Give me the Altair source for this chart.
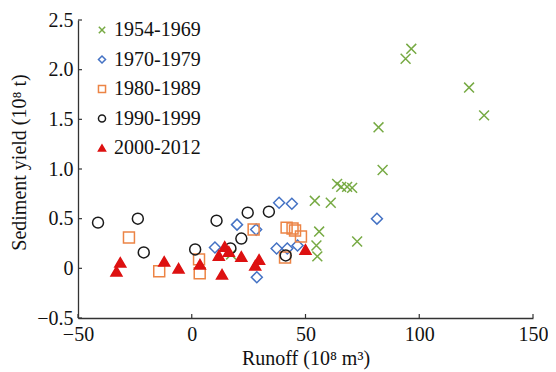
import altair as alt
import pandas as pd

periods = ["1954-1969", "1970-1979", "1980-1989", "1990-1999", "2000-2012"]

runoff_5469 = [17.3, 54.1, 61.1, 63.9, 65.7, 68.3, 70.5, 83.9, 56.0, 72.7, 54.8, 55.2, 96.5, 94.0, 121.9, 128.5, 82.1]
sed_5469 = [0.14, 0.68, 0.66, 0.85, 0.82, 0.82, 0.81, 0.99, 0.37, 0.27, 0.23, 0.12, 2.21, 2.11, 1.82, 1.54, 1.42]

runoff_7079 = [10.2, 19.9, 28.3, 28.6, 38.4, 44.0, 37.3, 42.0, 46.5, 81.4]
sed_7079 = [0.21, 0.44, 0.39, -0.09, 0.66, 0.65, 0.20, 0.20, 0.23, 0.50]

runoff_8089 = [-27.6, -14.3, 3.2, 3.5, 27.2, 41.0, 41.7, 44.3, 45.4, 48.0]
sed_8089 = [0.31, -0.03, 0.09, -0.05, 0.39, 0.11, 0.41, 0.40, 0.38, 0.32]

runoff_9099 = [-41.2, -23.7, -21.1, 1.5, 10.9, 17.0, 21.8, 24.6, 33.9, 41.3]
sed_9099 = [0.46, 0.50, 0.16, 0.19, 0.48, 0.20, 0.30, 0.56, 0.57, 0.13]

runoff_0012 = [-31.4, -33.1, -12.1, -5.8, 3.6, 11.9, 14.5, 16.3, 21.8, 13.3, 29.6, 27.9, 50.0]
sed_0012 = [0.06, -0.03, 0.07, 0.0, 0.04, 0.13, 0.22, 0.17, 0.12, -0.06, 0.09, 0.03, 0.19]

x_ticks = [-50, 0, 50, 100, 150]
y_ticks = [-0.5, 0, 0.5, 1.0, 1.5, 2.0, 2.5]

colors = ["#77AA44", "#4472C4", "#EC8445", "#1A1A1A", "#DD1111"]
fills = ["transparent", "transparent", "transparent", "transparent", "#DD1111"]
xpath = "M-0.9,-0.9L0.9,0.9M-0.9,0.9L0.9,-0.9"
shapes = [xpath, "diamond", "square", "circle", "triangle-up"]

rows = []
for p, xs, ys in zip(periods,
                     [runoff_5469, runoff_7079, runoff_8089, runoff_9099, runoff_0012],
                     [sed_5469, sed_7079, sed_8089, sed_9099, sed_0012]):
    for a, b in zip(xs, ys):
        rows.append({"period": p, "runoff": a, "sed": b})
df = pd.DataFrame(rows)

W, H = 455, 298
FONT = "Liberation Serif, Times New Roman, DejaVu Serif, serif"

xscale = alt.Scale(domain=[-50, 150], nice=False, zero=False)
yscale = alt.Scale(domain=[-0.5, 2.5], nice=False, zero=False)

legend = alt.Legend(
    title=None, orient="none", legendX=14, legendY=0,
    labelFont=FONT, labelFontSize=20, labelColor="#111",
    symbolSize=50, symbolStrokeWidth=1.5, rowPadding=9.5, labelOffset=2,
    padding=0,
)

points = alt.Chart(df).mark_point(size=120, strokeWidth=1.5, opacity=1, filled=False).encode(
    x=alt.X("runoff:Q", scale=xscale,
            axis=alt.Axis(values=x_ticks, title="Runoff (10⁸ m³)", grid=False, tickSize=0,
                          labelPadding=6, titlePadding=4, labelFlush=False)),
    y=alt.Y("sed:Q", scale=yscale,
            axis=alt.Axis(values=y_ticks, title="Sediment yield (10⁸ t)", grid=False, tickSize=0,
                          labelPadding=5, titlePadding=7, labelFlush=False, titleY=142,
                          labelExpr="datum.value == 0 ? '0' : format(datum.value, '.1f')")),
    color=alt.Color("period:N", scale=alt.Scale(domain=periods, range=colors), legend=legend),
    fill=alt.Fill("period:N", scale=alt.Scale(domain=periods, range=fills), legend=legend),
    shape=alt.Shape("period:N", scale=alt.Scale(domain=periods, range=shapes), legend=legend),
)

xt = alt.Chart(pd.DataFrame({"t": x_ticks})).mark_rule(color="#333", strokeWidth=1.2).encode(
    x=alt.X("t:Q", scale=xscale), y=alt.value(H), y2=alt.value(H - 4)
)
yt = alt.Chart(pd.DataFrame({"t": y_ticks})).mark_rule(color="#333", strokeWidth=1.2).encode(
    y=alt.Y("t:Q", scale=yscale), x=alt.value(0), x2=alt.value(4)
)

chart = alt.layer(points, xt, yt).properties(
    width=W, height=H,
    autosize=alt.AutoSizeParams(type="none"),
    padding={"left": 70, "top": 12, "right": 15, "bottom": 54},
).configure_view(stroke=None).configure_axis(
    domainColor="#333", domainWidth=1.3,
    labelFont=FONT, labelFontSize=20, labelColor="#111",
    titleFont=FONT, titleFontSize=20, titleFontWeight="normal", titleColor="#111",
)

chart.save("out.html", embed_options={"renderer": "svg", "actions": False})
